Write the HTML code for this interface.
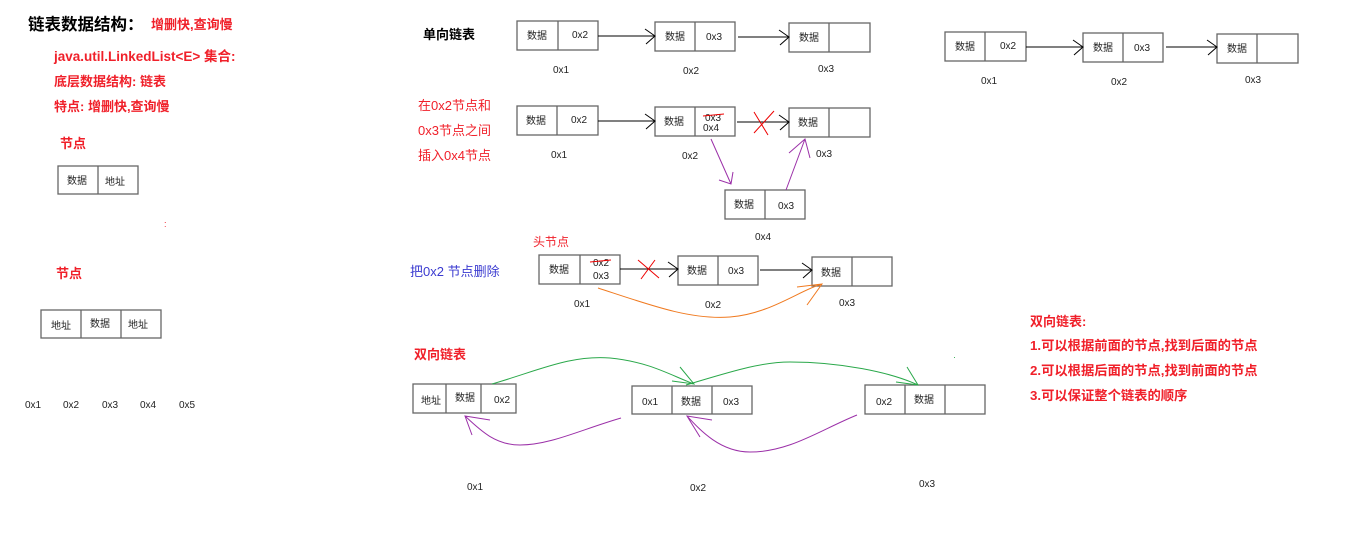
<!DOCTYPE html>
<html><head><meta charset="utf-8"><style>
html,body{margin:0;padding:0;background:#fff;}
svg{display:block;}
text{font-family:"Liberation Sans","Noto Sans CJK SC",sans-serif;}
.b{font-size:10px;fill:#222;}
.l{font-size:10px;fill:#222;}
.r{fill:#f0202a;font-weight:bold;font-size:13px;}
.rn{fill:#f0202a;font-size:13px;}
rect{fill:#fff;stroke:#666;stroke-width:1.3;}
line.s{stroke:#666;stroke-width:1.3;}
</style></head><body>
<svg width="1360" height="537" viewBox="0 0 1360 537" xmlns="http://www.w3.org/2000/svg">
<!-- left texts -->
<text x="28" y="30" style="font-size:16.5px;font-weight:bold;fill:#000">链表数据结构：</text>
<text x="151" y="29" class="r" style="font-size:13px">增删快,查询慢</text>
<text x="54" y="61" class="r" style="font-size:13.5px">java.util.LinkedList&lt;E&gt; 集合:</text>
<text x="54" y="86" class="r">底层数据结构: 链表</text>
<text x="54" y="111" class="r">特点: 增删快,查询慢</text>
<text x="60" y="148" class="r">节点</text>
<rect x="58" y="166" width="80" height="28"/><line class="s" x1="98" y1="166" x2="98" y2="194"/>
<text x="67" y="184" class="b">数据</text><text x="105" y="185" class="b">地址</text>
<text x="164" y="227" style="font-size:9px;fill:#f0202a">:</text>
<text x="56" y="278" class="r">节点</text>
<rect x="41" y="310" width="120" height="28"/><line class="s" x1="81" y1="310" x2="81" y2="338"/><line class="s" x1="121" y1="310" x2="121" y2="338"/>
<text x="51" y="329" class="b">地址</text><text x="90" y="327" class="b">数据</text><text x="128" y="328" class="b">地址</text>
<text x="25" y="408" class="l">0x1</text><text x="63" y="408" class="l">0x2</text><text x="102" y="408" class="l">0x3</text><text x="140" y="408" class="l">0x4</text><text x="179" y="408" class="l">0x5</text>

<!-- 单向链表 -->
<text x="423" y="39" style="font-size:13px;font-weight:bold;fill:#000">单向链表</text>
<rect x="517" y="21" width="81" height="29"/><line class="s" x1="558" y1="21" x2="558" y2="50"/>
<text x="527" y="39" class="b">数据</text><text x="572" y="38" class="b">0x2</text>
<rect x="655" y="22" width="80" height="29"/><line class="s" x1="695" y1="22" x2="695" y2="51"/>
<text x="665" y="40" class="b">数据</text><text x="706" y="40" class="b">0x3</text>
<rect x="789" y="23" width="81" height="29"/><line class="s" x1="829" y1="23" x2="829" y2="52"/>
<text x="799" y="41" class="b">数据</text>
<g stroke="#000" stroke-width="1" fill="none">
<path d="M598 36H655M645 29L655 36L646 44"/>
<path d="M738 37H789M779 30L789 37L780 45"/>
</g>
<text x="553" y="73" class="l">0x1</text><text x="683" y="74" class="l">0x2</text><text x="818" y="72" class="l">0x3</text>

<!-- right top -->
<rect x="945" y="32" width="81" height="29"/><line class="s" x1="985" y1="32" x2="985" y2="61"/>
<text x="955" y="50" class="b">数据</text><text x="1000" y="49" class="b">0x2</text>
<rect x="1083" y="33" width="80" height="29"/><line class="s" x1="1123" y1="33" x2="1123" y2="62"/>
<text x="1093" y="51" class="b">数据</text><text x="1134" y="51" class="b">0x3</text>
<rect x="1217" y="34" width="81" height="29"/><line class="s" x1="1257" y1="34" x2="1257" y2="63"/>
<text x="1227" y="52" class="b">数据</text>
<g stroke="#000" stroke-width="1" fill="none">
<path d="M1026 47H1083M1073 40L1083 47L1074 55"/>
<path d="M1166 47H1217M1207 40L1217 47L1208 55"/>
</g>
<text x="981" y="84" class="l">0x1</text><text x="1111" y="85" class="l">0x2</text><text x="1245" y="83" class="l">0x3</text>

<!-- insert -->
<text x="418" y="110" class="rn">在0x2节点和</text>
<text x="418" y="135" class="rn">0x3节点之间</text>
<text x="418" y="160" class="rn">插入0x4节点</text>
<rect x="517" y="106" width="81" height="29"/><line class="s" x1="557" y1="106" x2="557" y2="135"/>
<text x="526" y="124" class="b">数据</text><text x="571" y="123" class="b">0x2</text>
<rect x="655" y="107" width="80" height="29"/><line class="s" x1="695" y1="107" x2="695" y2="136"/>
<text x="664" y="125" class="b">数据</text><text x="705" y="121" class="b">0x3</text><text x="703" y="131" class="b">0x4</text>
<line x1="703" y1="116" x2="724" y2="114" stroke="#e00" stroke-width="1"/>
<rect x="789" y="108" width="81" height="29"/><line class="s" x1="829" y1="108" x2="829" y2="137"/>
<text x="798" y="126" class="b">数据</text>
<g stroke="#000" stroke-width="1" fill="none">
<path d="M598 121H655M645 114L655 121L646 129"/>
<path d="M737 122H789M779 115L789 122L780 130"/>
</g>
<path d="M754 112L768 135M774 111L754 133" stroke="#e00" stroke-width="1"/>
<text x="551" y="158" class="l">0x1</text><text x="682" y="159" class="l">0x2</text><text x="816" y="157" class="l">0x3</text>
<rect x="725" y="190" width="80" height="29"/><line class="s" x1="765" y1="190" x2="765" y2="219"/>
<text x="734" y="208" class="b">数据</text><text x="778" y="209" class="b">0x3</text>
<text x="755" y="240" class="l">0x4</text>
<g stroke="#9b30a8" stroke-width="1" fill="none">
<path d="M711 139L731 184M719 180L731 184L733 172"/>
<path d="M786 190L805 139M789 153L805 139L810 158"/>
</g>

<!-- delete -->
<text x="533" y="246" class="rn" style="font-size:12px">头节点</text>
<text x="410" y="276" style="font-size:13px;fill:#3a3ad0">把0x2 节点删除</text>
<rect x="539" y="255" width="81" height="29"/><line class="s" x1="580" y1="255" x2="580" y2="284"/>
<text x="549" y="273" class="b">数据</text><text x="593" y="266" class="b">0x2</text><text x="593" y="279" class="b">0x3</text>
<line x1="590" y1="262" x2="611" y2="260" stroke="#e00" stroke-width="1"/>
<rect x="678" y="256" width="80" height="29"/><line class="s" x1="718" y1="256" x2="718" y2="285"/>
<text x="687" y="274" class="b">数据</text><text x="728" y="274" class="b">0x3</text>
<rect x="812" y="257" width="80" height="29"/><line class="s" x1="852" y1="257" x2="852" y2="286"/>
<text x="821" y="276" class="b">数据</text>
<g stroke="#000" stroke-width="1" fill="none">
<path d="M620 269H678M668 262L678 269L669 277"/>
<path d="M760 270H812M802 263L812 270L803 278"/>
</g>
<path d="M638 260L659 278M655 260L641 279" stroke="#e00" stroke-width="1"/>
<path d="M598 288C650 305 690 320 730 317C770 314 800 290 822 284M797 287L822 284L807 305" stroke="#f07a20" stroke-width="1" fill="none"/>
<text x="574" y="307" class="l">0x1</text><text x="705" y="308" class="l">0x2</text><text x="839" y="306" class="l">0x3</text>

<!-- 双向链表 -->
<text x="414" y="359" class="r" style="font-size:13px">双向链表</text>
<rect x="413" y="384" width="103" height="29"/><line class="s" x1="446" y1="384" x2="446" y2="413"/><line class="s" x1="481" y1="384" x2="481" y2="413"/>
<text x="421" y="404" class="b">地址</text><text x="455" y="401" class="b">数据</text><text x="494" y="403" class="b">0x2</text>
<rect x="632" y="386" width="120" height="28"/><line class="s" x1="672" y1="386" x2="672" y2="414"/><line class="s" x1="712" y1="386" x2="712" y2="414"/>
<text x="642" y="405" class="b">0x1</text><text x="681" y="405" class="b">数据</text><text x="723" y="405" class="b">0x3</text>
<rect x="865" y="385" width="120" height="29"/><line class="s" x1="905" y1="385" x2="905" y2="414"/><line class="s" x1="945" y1="385" x2="945" y2="414"/>
<text x="876" y="405" class="b">0x2</text><text x="914" y="403" class="b">数据</text>
<g stroke="#2aa84a" stroke-width="1" fill="none">
<path d="M492 384C540 370 570 355 610 358C650 362 670 375 694 384M672 381L694 384L680 367"/>
<path d="M686 385C730 372 760 362 790 362C840 362 890 372 918 385M896 382L918 385L907 367"/>
</g>
<g stroke="#9b30a8" stroke-width="1" fill="none">
<path d="M621 418C580 430 550 445 520 445C495 445 480 430 465 416M490 420L465 416L472 435"/>
<path d="M857 415C820 430 790 452 750 452C720 452 700 430 687 416M712 420L687 416L700 437"/>
</g>
<text x="953" y="360" style="font-size:9px;fill:#2aa84a">·</text>
<text x="467" y="490" class="l">0x1</text><text x="690" y="491" class="l">0x2</text><text x="919" y="487" class="l">0x3</text>

<!-- right notes -->
<text x="1030" y="326" class="r">双向链表:</text>
<text x="1030" y="350" class="r" style="font-size:13.3px">1.可以根据前面的节点,找到后面的节点</text>
<text x="1030" y="375" class="r" style="font-size:13.3px">2.可以根据后面的节点,找到前面的节点</text>
<text x="1030" y="400" class="r" style="font-size:13.3px">3.可以保证整个链表的顺序</text>
</svg>
</body></html>
